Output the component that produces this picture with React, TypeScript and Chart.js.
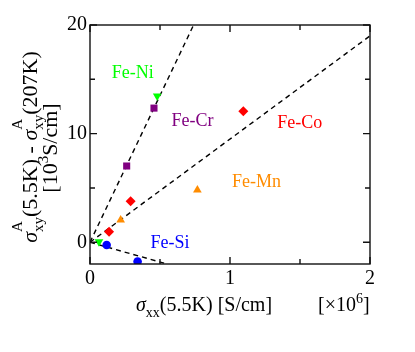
import React, { useEffect, useRef } from 'react';
import { Chart, registerables } from 'chart.js';

Chart.register(...registerables);

// ---- data ----
const xFeNi = [0.064, 0.48];
const yFeNi = [0.05, 13.46];
const xFeCr = [0.262, 0.457];
const yFeCr = [7.02, 12.35];
const xFeCo = [0.136, 0.29, 1.095];
const yFeCo = [0.98, 3.77, 12.05];
const xFeMn = [0.219, 0.767];
const yFeMn = [2.05, 4.81];
const xFeSi = [0.119, 0.34];
const yFeSi = [-0.25, -1.78];

const guideSteepX = [0, 0.74];
const guideSteepY = [0, 20];
const guideMidX = [0, 2];
const guideMidY = [0, 19];
const guideNegX = [0, 0.55];
const guideNegY = [0, -2];

const seriesNames = ['Fe-Ni', 'Fe-Cr', 'Fe-Co', 'Fe-Mn', 'Fe-Si'];
const seriesColors = ['#00ff00', '#800080', '#ff0000', '#ff8c00', '#0000ff'];
const labelAnchorX = [0.306, 0.732, 1.498, 1.19, 0.571];
const labelAnchorY = [15.57, 11.18, 11.0, 5.52, -0.06];

const xMin = 0;
const xMax = 2;
const yMin = -2;
const yMax = 20;
const xTickValues = [0, 1, 2];
const xMinorTicks = [0.5, 1.5];
const yTickValues = [0, 10, 20];
const yMinorTicks = [5, 15];

const FONT = '"Liberation Serif", "Times New Roman", serif';

type Seg = { t?: string; sub?: string; sup?: string; italic?: boolean; stackedSup?: boolean };

function drawRich(ctx: CanvasRenderingContext2D, segs: Seg[], x: number, y: number, size: number, draw: boolean): number {
  const sm = Math.round(size * 0.7);
  let cx = x;
  for (const s of segs) {
    if (s.t) {
      ctx.font = `${s.italic ? 'italic ' : ''}${size}px ${FONT}`;
      if (draw) ctx.fillText(s.t, cx, y);
      cx += ctx.measureText(s.t).width;
    } else {
      ctx.font = `${sm}px ${FONT}`;
      let w = 0;
      if (s.sub) {
        if (draw) ctx.fillText(s.sub, cx, y + size * 0.28);
        w = Math.max(w, ctx.measureText(s.sub).width);
      }
      if (s.sup) {
        const shift = s.stackedSup ? size * 0.66 : size * 0.42;
        if (draw) ctx.fillText(s.sup, cx, y - shift);
        w = Math.max(w, ctx.measureText(s.sup).width);
      }
      cx += w;
    }
  }
  return cx - x;
}

const yTitle1: Seg[] = [
  { t: 'σ', italic: true },
  { sub: 'xy', sup: 'A', stackedSup: true },
  { t: '(5.5K) - ' },
  { t: 'σ', italic: true },
  { sub: 'xy', sup: 'A', stackedSup: true },
  { t: '(207K)' },
];
const yTitle2: Seg[] = [{ t: '[10' }, { sup: '3' }, { t: 'S/cm]' }];
const xTitle: Seg[] = [{ t: 'σ', italic: true }, { sub: 'xx' }, { t: '(5.5K) [S/cm]' }];
const xMult: Seg[] = [{ t: '[×10' }, { sup: '6' }, { t: ']' }];

const decorPlugin = {
  id: 'decor',
  afterDraw(chart: any) {
    const ctx: CanvasRenderingContext2D = chart.ctx;
    const xs = chart.scales.x;
    const ys = chart.scales.y;
    const { left, right, top, bottom } = chart.chartArea;

    ctx.save();
    // frame
    ctx.strokeStyle = '#111';
    ctx.lineWidth = 1.4;
    ctx.strokeRect(left, top, right - left, bottom - top);

    // inside ticks on all four sides
    const tickX = (vals: number[], len: number) => {
      for (const v of vals) {
        const px = xs.getPixelForValue(v);
        ctx.beginPath();
        ctx.moveTo(px, bottom);
        ctx.lineTo(px, bottom - len);
        ctx.moveTo(px, top);
        ctx.lineTo(px, top + len);
        ctx.stroke();
      }
    };
    const tickY = (vals: number[], len: number) => {
      for (const v of vals) {
        const py = ys.getPixelForValue(v);
        ctx.beginPath();
        ctx.moveTo(left, py);
        ctx.lineTo(left + len, py);
        ctx.moveTo(right, py);
        ctx.lineTo(right - len, py);
        ctx.stroke();
      }
    };
    tickX(xTickValues, 7);
    tickX(xMinorTicks, 5);
    tickY(yTickValues, 7);
    tickY(yMinorTicks, 5);

    // series labels
    ctx.textAlign = 'center';
    ctx.textBaseline = 'middle';
    ctx.font = `18px ${FONT}`;
    seriesNames.forEach((name, i) => {
      ctx.fillStyle = seriesColors[i];
      ctx.fillText(name, xs.getPixelForValue(labelAnchorX[i]), ys.getPixelForValue(labelAnchorY[i]));
    });

    // axis titles
    ctx.fillStyle = '#000';
    ctx.textAlign = 'left';
    ctx.textBaseline = 'alphabetic';
    drawRich(ctx, xTitle, 136, 311, 20, true);
    drawRich(ctx, xMult, 318, 311, 20, true);

    const ySize = 22;
    ctx.save();
    ctx.translate(37, 147);
    ctx.rotate(-Math.PI / 2);
    const w1 = drawRich(ctx, yTitle1, 0, 0, ySize, false);
    drawRich(ctx, yTitle1, -w1 / 2, 0, ySize, true);
    ctx.restore();

    ctx.save();
    ctx.translate(57, 148);
    ctx.rotate(-Math.PI / 2);
    const w2 = drawRich(ctx, yTitle2, 0, 0, ySize, false);
    drawRich(ctx, yTitle2, -w2 / 2, 0, ySize, true);
    ctx.restore();

    ctx.restore();
  },
};

function pts(xs: number[], ys: number[]) {
  return xs.map((x, i) => ({ x, y: ys[i] }));
}

export default function App() {
  const ref = useRef<HTMLCanvasElement | null>(null);

  useEffect(() => {
    if (!ref.current) return;
    const marker = (label: string, data: any[], color: string, style: string, radius: number, rot = 0) => ({
      label,
      data,
      showLine: false,
      pointStyle: style,
      pointRotation: rot,
      pointRadius: radius,
      pointBackgroundColor: color,
      pointBorderColor: color,
      pointBorderWidth: 0,
    });
    const guide = (label: string, data: any[]) => ({
      label,
      data,
      showLine: true,
      pointRadius: 0,
      borderColor: '#000',
      borderWidth: 1.4,
      borderDash: [5, 4],
      fill: false,
    });

    const chart = new Chart(ref.current, {
      type: 'scatter',
      data: {
        datasets: [
          marker('Fe-Ni', pts(xFeNi, yFeNi), seriesColors[0], 'triangle', 5, 180),
          marker('Fe-Cr', pts(xFeCr, yFeCr), seriesColors[1], 'rect', 5),
          marker('Fe-Co', pts(xFeCo, yFeCo), seriesColors[2], 'rectRot', 5),
          marker('Fe-Mn', pts(xFeMn, yFeMn), seriesColors[3], 'triangle', 5),
          marker('Fe-Si', pts(xFeSi, yFeSi), seriesColors[4], 'circle', 4.3),
          guide('steep', pts(guideSteepX, guideSteepY)),
          guide('mid', pts(guideMidX, guideMidY)),
          guide('neg', pts(guideNegX, guideNegY)),
        ] as any,
      },
      options: {
        animation: false,
        responsive: false,
        devicePixelRatio: 1,
        layout: { padding: { left: 0, top: 25, right: 45, bottom: 0 } },
        plugins: { legend: { display: false }, tooltip: { enabled: false } },
        scales: {
          x: {
            type: 'linear',
            min: xMin,
            max: xMax,
            afterBuildTicks: (s: any) => {
              s.ticks = xTickValues.map((v) => ({ value: v }));
            },
            afterFit: (s: any) => {
              s.height = 88;
            },
            grid: { display: false, drawTicks: false },
            border: { display: false },
            ticks: {
              color: '#000',
              font: { family: FONT, size: 20 },
              padding: 3,
              maxRotation: 0,
              callback: (v: any) => String(v),
            },
          },
          y: {
            type: 'linear',
            min: yMin,
            max: yMax,
            afterBuildTicks: (s: any) => {
              s.ticks = yTickValues.map((v) => ({ value: v }));
            },
            afterFit: (s: any) => {
              s.width = 90;
            },
            grid: { display: false, drawTicks: false },
            border: { display: false },
            ticks: {
              color: '#000',
              font: { family: FONT, size: 20 },
              padding: 3,
              callback: (v: any) => String(v),
            },
          },
        },
      } as any,
      plugins: [decorPlugin],
    });
    return () => chart.destroy();
  }, []);

  return (
    <div style={{ position: 'absolute', left: 0, top: 0, width: 415, height: 352, background: '#fff' }}>
      <canvas ref={ref} width={415} height={352} style={{ display: 'block', width: 415, height: 352 }} />
    </div>
  );
}
